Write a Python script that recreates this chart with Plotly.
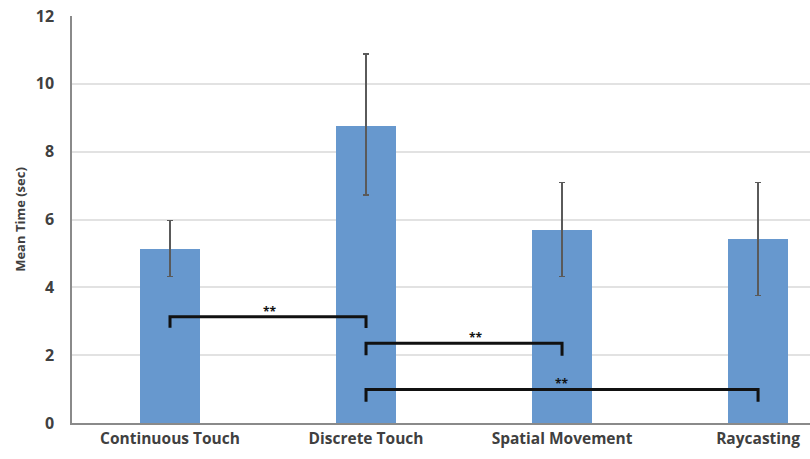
import plotly.graph_objects as go

categories = ["Continuous Touch", "Discrete Touch", "Spatial Movement", "Raycasting"]
mean_time = [5.13, 8.77, 5.70, 5.42]
err_upper = [5.97, 10.88, 7.10, 7.10]
err_lower = [4.32, 6.72, 4.32, 3.75]

# significance brackets: (start category index, end category index, top, left tick bottom, right tick bottom)
bracket_from = [0, 1, 1]
bracket_to = [1, 2, 3]
bracket_top = [3.13, 2.35, 0.99]
bracket_low_left = [2.81, 2.0, 0.63]
bracket_low_right = [2.80, 1.98, 0.63]
star_x = [0.51, 1.56, 2.0]
star_label = ["**", "**", "**"]

y_ticks = [0, 2, 4, 6, 8, 10, 12]

xs = list(range(len(categories)))
fig = go.Figure()
fig.add_trace(go.Bar(
    x=xs, y=mean_time, width=0.31,
    marker=dict(color="#6798CE", line=dict(width=0)),
    error_y=dict(
        type="data", symmetric=False,
        array=[u - m for u, m in zip(err_upper, mean_time)],
        arrayminus=[m - l for m, l in zip(mean_time, err_lower)],
        color="#5a5a5a", thickness=1.3, width=3,
    ),
    showlegend=False, hoverinfo="skip",
))

for a, b, top, la, lb in zip(bracket_from, bracket_to, bracket_top, bracket_low_left, bracket_low_right):
    fig.add_trace(go.Scatter(
        x=[a, a, b, b], y=[la, top, top, lb], mode="lines",
        line=dict(color="#111111", width=3), showlegend=False, hoverinfo="skip",
    ))

for sx, top, lab in zip(star_x, bracket_top, star_label):
    fig.add_annotation(x=sx, y=top, text="<b>" + lab + "</b>", showarrow=False,
                       yanchor="bottom", yshift=-5, font=dict(size=12, color="#111111", family="Open Sans"))

fig.update_layout(
    width=810, height=459,
    margin=dict(l=72, r=0, t=16, b=36),
    plot_bgcolor="white", paper_bgcolor="white",
    bargap=0,
    xaxis=dict(
        range=[-0.5, 3.265], tickvals=xs, ticktext=["<b>" + c + "</b>" for c in categories],
        showgrid=False, zeroline=False, showline=True, linecolor="#8a8a8a", linewidth=2,
        ticks="", automargin=False,
        tickfont=dict(family="Open Sans", size=15.5, color="#404040"),
    ),
    yaxis=dict(
        range=[0, 12], tickvals=y_ticks, ticktext=["<b>%d</b>" % v for v in y_ticks],
        showgrid=True, gridcolor="#e2e2e2", gridwidth=1.5, zeroline=False,
        showline=True, linecolor="#8a8a8a", linewidth=1.5, ticks="",
        ticklabelstandoff=13, automargin=False,
        tickfont=dict(family="Open Sans", size=16, color="#404040"),
        title=dict(text="<b>Mean Time (sec)</b>", font=dict(family="Open Sans", size=13, color="#404040"), standoff=7),
    ),
)

fig.write_html("out.html", config={"displayModeBar": False},
               post_script="document.body.style.margin='0';")
